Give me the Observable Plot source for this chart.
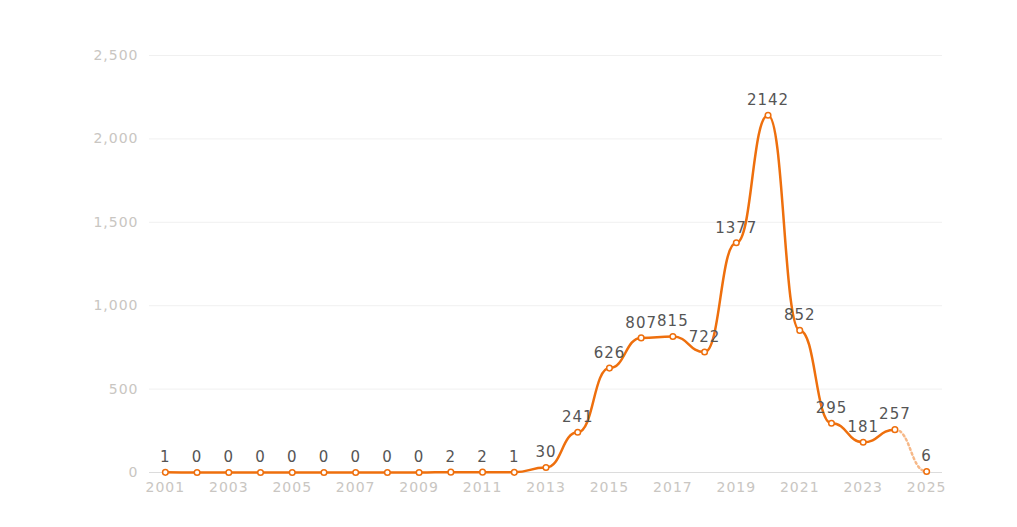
<!DOCTYPE html>
<html><head><meta charset="utf-8">
<script src="https://cdn.jsdelivr.net/npm/d3@7"></script>
<script src="https://cdn.jsdelivr.net/npm/@observablehq/plot@0.6"></script>
<style>body{margin:0;background:#fff}#chart svg{display:block}#chart svg text{letter-spacing:1px}</style>
</head><body><div id="chart"></div>
<script>
const years = [2001,2002,2003,2004,2005,2006,2007,2008,2009,2010,2011,2012,2013,2014,2015,2016,2017,2018,2019,2020,2021,2022,2023,2024,2025];
const counts = [1,0,0,0,0,0,0,0,0,2,2,1,30,241,626,807,815,722,1377,2142,852,295,181,257,6];
const yTicks = [0,500,1000,1500,2000,2500];
const xTicks = [2001,2003,2005,2007,2009,2011,2013,2015,2017,2019,2021,2023,2025];

const data = years.map((y,i)=>({year:y, value:counts[i]}));
const solid = data.filter(d=>d.year<=2024);
const dotted = data.filter(d=>d.year>=2024);
const orange = "#ee6f0d";

const chart = Plot.plot({
  width: 1017, height: 527,
  marginLeft: 149, marginRight: 75, marginTop: 55, marginBottom: 55,
  style: {fontFamily: "DejaVu Sans, Verdana, sans-serif", fontSize: "13px", background: "#fff"},
  x: {domain: [2000.5, 2025.5], axis: null},
  y: {domain: [0, 2500], axis: null},
  marks: [
    Plot.ruleY(yTicks.filter(t=>t>0), {stroke: "#f0f0f0", strokeWidth: 1}),
    Plot.ruleY([0], {stroke: "#dcdcdc", strokeWidth: 1}),
    Plot.axisY({ticks: yTicks, tickSize: 0, tickPadding: 11, tickFormat: d3.format(","), fill: "#c9c6c2", fontSize: 14, label: null}),
    Plot.axisX({ticks: xTicks, tickSize: 0, tickPadding: 10, tickFormat: d3.format("d"), fill: "#c9c6c2", fontSize: 14, label: null}),
    Plot.line(dotted, {x: "year", y: "value", curve: "bump-x", stroke: "#f6b888", strokeWidth: 2.5, strokeDasharray: "2,3"}),
    Plot.line(solid, {x: "year", y: "value", curve: "bump-x", stroke: orange, strokeWidth: 2.5}),
    Plot.dot(data, {x: "year", y: "value", r: 2.8, fill: "#fff", stroke: orange, strokeWidth: 1.5}),
    Plot.text(data, {x: "year", y: "value", text: d=>String(d.value), dy: -15, fill: "#555", fontSize: 15})
  ]
});
document.getElementById("chart").append(chart);
</script></body></html>
